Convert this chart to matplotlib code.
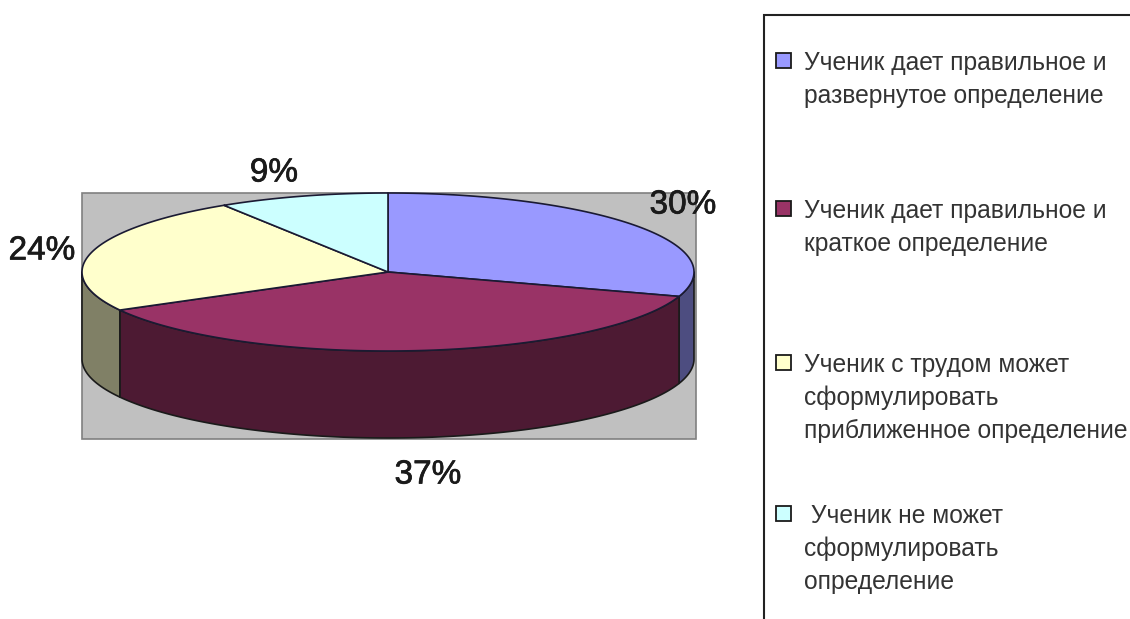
import numpy as np
import matplotlib
matplotlib.use("Agg")
import matplotlib.pyplot as plt
import matplotlib.patheffects as pe
from matplotlib.patches import Rectangle

values = [30, 37, 24, 9]
pct_labels = ["30%", "37%", "24%", "9%"]
top_colors = ["#9999FF", "#993366", "#FFFFCC", "#CCFFFF"]
side_colors = ["#4D4D80", "#4D1A33", "#808066", "#668080"]
legend_lines = [
    ["Ученик дает правильное и", "развернутое определение"],
    ["Ученик дает правильное и", "краткое определение"],
    ["Ученик с трудом может", "сформулировать", "приближенное определение"],
    [" Ученик не может", "сформулировать", "определение"],
]

# layout, in image pixels
CX, CY, RX, RY, DEPTH = 388, 272, 306, 79, 87
pct_pos = [(683, 205), (428, 475), (42, 251), (274, 173)]
legend_x = [776, 804]
legend_baseline = [70, 218, 372, 523]
LINE_H = 33

plt.rcParams['font.family'] = ['Liberation Sans', 'DejaVu Sans']


def ell_points(a0, a1, dy=0):
    # angle in degrees clockwise from 12 o'clock
    t = np.radians(np.linspace(a0, a1, 200))
    return CX + RX * np.sin(t), CY + dy - RY * np.cos(t)


fig = plt.figure(figsize=(11.3, 6.19), dpi=100)
ax = fig.add_axes([0, 0, 1, 1])
ax.set_xlim(0, 1130)
ax.set_ylim(619, 0)
ax.axis("off")

# grey floor behind the pie
ax.add_patch(Rectangle((CX - RX - 0.5, CY - RY - 0.5), 2 * RX + 2, 2 * RY + DEPTH + 1,
                       facecolor="#C0C0C0", edgecolor="#808080", linewidth=1.2))

edges = np.cumsum([0] + values) * 360.0 / sum(values)

# side walls: only the front half (90..270 deg) can be seen
for i in range(len(values)):
    a0, a1 = max(edges[i], 90), min(edges[i + 1], 270)
    if a0 >= a1:
        continue
    x, y = ell_points(a0, a1)
    xb, yb = ell_points(a0, a1, DEPTH)
    ax.fill(np.r_[x, xb[::-1]], np.r_[y, yb[::-1]], facecolor=side_colors[i],
            edgecolor="#1a1a1a", linewidth=1.2, joinstyle="round")

# top face
for i in range(len(values)):
    x, y = ell_points(edges[i], edges[i + 1])
    ax.fill(np.r_[CX, x], np.r_[CY, y], facecolor=top_colors[i],
            edgecolor="#1a1a33", linewidth=1.2, joinstyle="round")

for lab, (px, py) in zip(pct_labels, pct_pos):
    ax.text(px, py, lab, fontsize=24, color="#1a1a1a", ha="center", va="center",
            path_effects=[pe.withStroke(linewidth=0.5, foreground="#1a1a1a")])

# legend box, its right and bottom sides run off the image
ax.plot([1130, 763.5, 763.5], [15, 15, 619], color="#222222", linewidth=1.5,
        solid_joinstyle="miter", clip_on=False)
for i, lines in enumerate(legend_lines):
    y0 = legend_baseline[i]
    ax.add_patch(Rectangle((legend_x[0], y0 - 17), 15, 15, facecolor=top_colors[i],
                           edgecolor="#1a1a1a", linewidth=1.3))
    for j, line in enumerate(lines):
        ax.text(legend_x[1], y0 + j * LINE_H, line, fontsize=17.7, color="#333333",
                ha="left", va="baseline")

fig.savefig("out.png", dpi=100)
